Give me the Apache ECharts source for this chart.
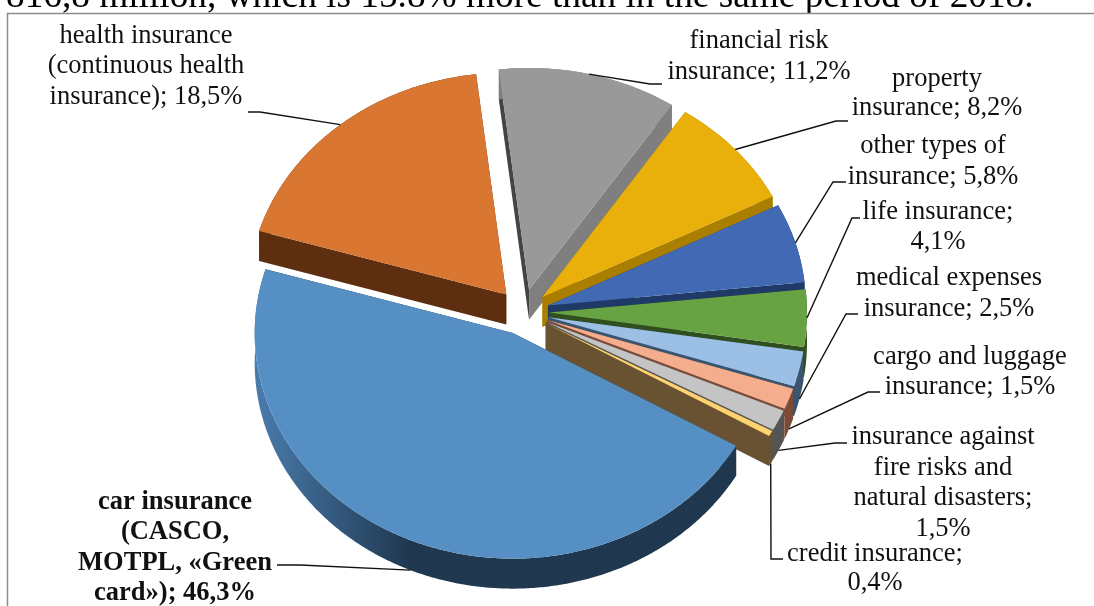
<!DOCTYPE html>
<html>
<head>
<meta charset="utf-8">
<style>html,body{margin:0;padding:0;background:#fff}#c{width:1094px;height:606px}</style>
<script src="https://cdn.jsdelivr.net/npm/echarts@6/dist/echarts.min.js"></script>
</head>
<body>
<div id="c"></div>
<script>
const shares = [46.3, 18.5, 11.2, 8.2, 5.8, 4.1, 2.5, 1.5, 1.5, 0.4];
const shareNames = ['car insurance','health insurance','financial risk insurance','property insurance','other types of insurance','life insurance','medical expenses insurance','cargo and luggage insurance','insurance against fire risks and natural disasters','credit insurance'];
const topColors = ['#558FC3','#D97632','#999999','#E9AF0A','#4269B3','#68A343','#9CBFE6','#F4AE8E','#C4C4C4','#FFD272'];
const wallColors = ['#1F3850','#5E2E10','#7F7F7F','#AA7F00','#203A68','#2F4F1E','#3A5570','#7A4C38','#555555','#685232'];
const labelLines = [
  ['car insurance','(CASCO,','MOTPL, «Green','card»); 46,3%'],
  ['health insurance','(continuous health','insurance); 18,5%'],
  ['financial risk','insurance; 11,2%'],
  ['property','insurance; 8,2%'],
  ['other types of','insurance; 5,8%'],
  ['life insurance;','4,1%'],
  ['medical expenses','insurance; 2,5%'],
  ['cargo and luggage','insurance; 1,5%'],
  ['insurance against','fire risks and','natural disasters;','1,5%'],
  ['credit insurance;','0,4%']
];
const labelCenters = [175,146,759,937,933,938,949,970,943,875];
const labelTops = [502,36,41,79,146,212,278,357,437,554];
const labelSteps = [30.5,30.5,31,29,31,30,31,30,30.6,29];
const leaderStarts = [[277,565],[248,112],[662,84],[848,121],[846,182],[860,218],[858,314],[880,392],[847,443],[783,559]];
const leaderElbows = [[300,565],[260,112],[650,84],[836,121],[833,182],[852,218],[846,314],[868,392],[835,443],[771,559]];
const titleText = '816,8 million, which is 15.8% more than in the same period of 2018.';

const CX = 523, CY = 312, RX = 258, KY_FRONT = 0.875, KY_BACK = 0.86, EXPLODE = 26, DEPTH = 30, START_DEG = 30;
const FONT = '"Liberation Serif","Times New Roman",serif';
const total = shares.reduce((a, b) => a + b, 0);
const rad = d => d * Math.PI / 180;

function sliceGeom(i) {
  let before = 0;
  for (let j = 0; j < i; j++) before += shares[j];
  const a0 = START_DEG + before / total * 360;
  const a1 = a0 + shares[i] / total * 360;
  const mid = (a0 + a1) / 2;
  const ax = CX + EXPLODE * Math.cos(rad(mid));
  const ay = CY + EXPLODE * KY_FRONT * Math.sin(rad(mid));
  return { a0, a1, mid, ax, ay };
}
function rimPoint(g, deg) {
  const s = Math.sin(rad(deg));
  return [g.ax + RX * Math.cos(rad(deg)), g.ay + RX * (s < 0 ? KY_BACK : KY_FRONT) * s];
}
function arc(g) {
  const n = Math.max(4, Math.ceil((g.a1 - g.a0) * 2));
  const pts = [];
  for (let s = 0; s <= n; s++) pts.push(rimPoint(g, g.a0 + (g.a1 - g.a0) * s / n));
  return pts;
}
const down = p => [p[0], p[1] + DEPTH];

function renderSlice(params, api) {
  const i = api.value(0);
  const g = sliceGeom(i);
  const rim = arc(g);
  const apex = [g.ax, g.ay];
  let rimFill = wallColors[i];
  if (i === 0) {
    rimFill = new echarts.graphic.LinearGradient(255, 0, 410, 0, [
      { offset: 0, color: '#4A7CAD' }, { offset: 1, color: '#1F3850' }
    ], true);
  }
  const poly = (points, fill) => ({ type: 'polygon', shape: { points }, style: { fill, stroke: null } });
  const first = rim[0], last = rim[rim.length - 1];
  return {
    type: 'group',
    children: [
      poly([apex, first, down(first), down(apex)], i === 2 ? '#444444' : wallColors[i]),
      poly([apex, last, down(last), down(apex)], wallColors[i]),
      poly(rim.concat(rim.map(down).reverse()), rimFill),
      poly([apex].concat(rim), topColors[i])
    ]
  };
}
function renderLabel(params, api) {
  const i = api.value(0);
  const g = sliceGeom(i);
  let end = rimPoint(g, g.mid);
  if (Math.sin(rad(g.mid)) > 0.1) end = down(end);
  const children = [{
    type: 'polyline',
    shape: { points: [leaderStarts[i], leaderElbows[i], end] },
    style: { fill: null, stroke: '#111', lineWidth: 1.4 }
  }];
  labelLines[i].forEach((line, n) => {
    children.push({
      type: 'text',
      style: {
        text: line, x: labelCenters[i], y: labelTops[i] + n * labelSteps[i],
        align: 'center', verticalAlign: 'middle', fill: '#111',
        font: (i === 0 ? 'bold ' : '') + '26.5px ' + FONT
      }
    });
  });
  return { type: 'group', children };
}

// Back-to-front painting order: the far slices first, the big front slice last.
const paintOrder = [2, 1, 3, 4, 5, 6, 7, 8, 9, 0];

const chart = echarts.init(document.getElementById('c'), null, { renderer: 'canvas', width: 1094, height: 606 });
chart.setOption({
  animation: false,
  backgroundColor: '#fff',
  graphic: [
    { type: 'text', silent: true, z: 1, style: { text: titleText, x: 6, y: 16, align: 'left', verticalAlign: 'bottom', fill: '#000', font: '37.3px ' + FONT } },
    { type: 'rect', silent: true, z: 1, shape: { x: 0, y: 13, width: 1094, height: 600 }, style: { fill: '#fff' } },
    { type: 'polyline', silent: true, z: 1, shape: { points: [[7.5, 606], [7.5, 13.5], [1094, 13.5]] }, style: { fill: null, stroke: '#8c8c8c', lineWidth: 1.5 } }
  ],
  series: [
    {
      type: 'custom', coordinateSystem: 'none', silent: true, z: 2, clip: false,
      renderItem: renderSlice,
      data: paintOrder.map(i => ({ name: shareNames[i], value: [i, shares[i]] }))
    },
    {
      type: 'custom', coordinateSystem: 'none', silent: true, z: 3, clip: false,
      renderItem: renderLabel,
      data: shares.map((v, i) => ({ name: shareNames[i], value: [i, v] }))
    }
  ]
});
</script>
</body>
</html>
